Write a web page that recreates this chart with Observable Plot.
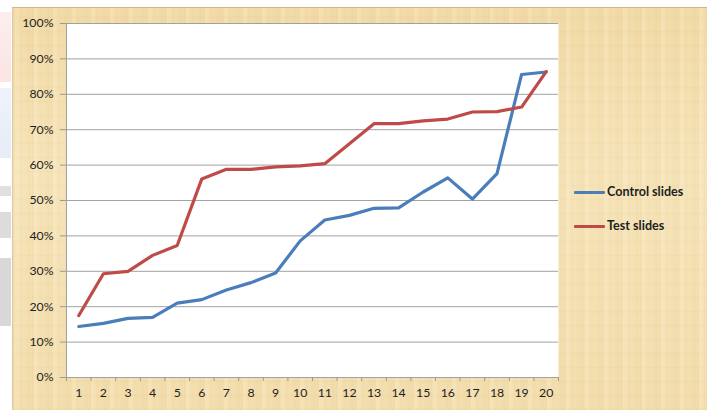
<!DOCTYPE html>
<html>
<head>
<meta charset="utf-8">
<script src="https://cdn.jsdelivr.net/npm/d3@7"></script>
<script src="https://cdn.jsdelivr.net/npm/@observablehq/plot@0.6"></script>
<style>
  html, body { margin: 0; padding: 0; background: #fff; }
  #wrap { position: relative; width: 707px; height: 410px; overflow: hidden; background: #fff; }
  #papyrus {
    position: absolute; left: 12px; top: 7px; width: 695px; height: 403px;
    box-sizing: border-box; border-top: 1px solid #c9b88e; border-left: 1px solid #dccb9f;
    background-color: #f4e0b1;
    background-image:
      repeating-linear-gradient(90deg, rgba(205,165,95,0.10) 0px, rgba(205,165,95,0.10) 1px, rgba(255,248,225,0.14) 2px, rgba(255,248,225,0.14) 5px, rgba(205,165,95,0.05) 8px, rgba(255,255,255,0) 11px, rgba(205,165,95,0.08) 17px, rgba(255,255,255,0) 19px),
      repeating-linear-gradient(0deg, rgba(190,150,80,0.035) 0px, rgba(190,150,80,0.035) 1px, rgba(255,250,230,0.05) 2px, rgba(255,250,230,0.05) 9px, rgba(255,255,255,0) 14px),
      linear-gradient(180deg, #f2daa6 0%, #f6e4b8 40%, #f3ddac 100%);
  }
  .blk { position: absolute; left: 0; width: 11px; }
  #chart { position: absolute; left: 0; top: 0; }
  .leg { position: absolute; font-family: Lato, "Open Sans", sans-serif; font-weight: bold; font-size: 12.6px; color: #1e1e1e; line-height: 14px; }
  .legline { position: absolute; height: 3px; width: 31px; border-radius: 1px; }
</style>
</head>
<body>
<div id="wrap">
  <div class="blk" style="top:12px;height:70px;background:linear-gradient(160deg,#fdeeee,#fbe4e4);"></div>
  <div class="blk" style="top:88px;height:70px;background:linear-gradient(160deg,#eef3fb,#e6edf8);"></div>
  <div class="blk" style="top:186px;height:10px;background:#e0e0e0;"></div>
  <div class="blk" style="top:212px;height:26px;background:#dcdcdc;"></div>
  <div class="blk" style="top:258px;height:68px;background:#d8d8d8;"></div>
  <div id="papyrus"></div>
  <div id="chart"></div>
  <div class="legline" style="left:574px;top:191px;background:#4a7ebb;"></div>
  <div class="leg" style="left:607px;top:185px;">Control slides</div>
  <div class="legline" style="left:574px;top:225px;background:#be4b48;"></div>
  <div class="leg" style="left:607px;top:219px;">Test slides</div>
</div>
<script>
const slides = d3.range(1, 21);
const control = [14.4, 15.3, 16.7, 17.0, 21.0, 22.0, 24.7, 26.8, 29.5, 38.6, 44.5, 45.8, 47.8, 47.9, 52.4, 56.4, 50.4, 57.6, 85.6, 86.3];
const test    = [17.5, 29.3, 30.0, 34.5, 37.3, 56.1, 58.8, 58.8, 59.5, 59.8, 60.4, 66.0, 71.7, 71.7, 72.5, 73.0, 75.0, 75.1, 76.4, 86.4];
const yTicks = d3.range(0, 101, 10);
const xEdges = d3.range(0.5, 21, 1);

const controlData = slides.map((s, i) => ({slide: s, value: control[i]}));
const testData = slides.map((s, i) => ({slide: s, value: test[i]}));

const chart = Plot.plot({
  width: 707,
  height: 410,
  marginLeft: 66,
  marginRight: 149,
  marginTop: 23,
  marginBottom: 33,
  x: {domain: [0.5, 20.5]},
  y: {domain: [0, 100]},
  style: {fontFamily: "Lato, 'Open Sans', sans-serif", fontSize: "12.3px", color: "#1e1e1e", background: "transparent"},
  marks: [
    Plot.frame({fill: "white", stroke: null}),
    Plot.gridY(yTicks, {stroke: "#a2a2a2", strokeOpacity: 1, strokeWidth: 1}),
    Plot.ruleX([0.5], {stroke: "#a2a2a2"}),
    Plot.ruleY([0], {stroke: "#a2a2a2"}),
    Plot.axisY(yTicks, {tickSize: 6, tickPadding: 7, tickFormat: d => d + "%", stroke: "#999", fill: "#1e1e1e", label: null}),
    Plot.axisX(xEdges, {tickSize: 4, tickFormat: () => "", stroke: "#999", label: null}),
    Plot.axisX(slides, {tickSize: 0, tickPadding: 11, fill: "#1e1e1e", label: null}),
    Plot.line(controlData, {x: "slide", y: "value", stroke: "#4a7ebb", strokeWidth: 3.2}),
    Plot.line(testData, {x: "slide", y: "value", stroke: "#be4b48", strokeWidth: 3.2})
  ]
});
document.getElementById("chart").appendChild(chart);
</script>
</body>
</html>
